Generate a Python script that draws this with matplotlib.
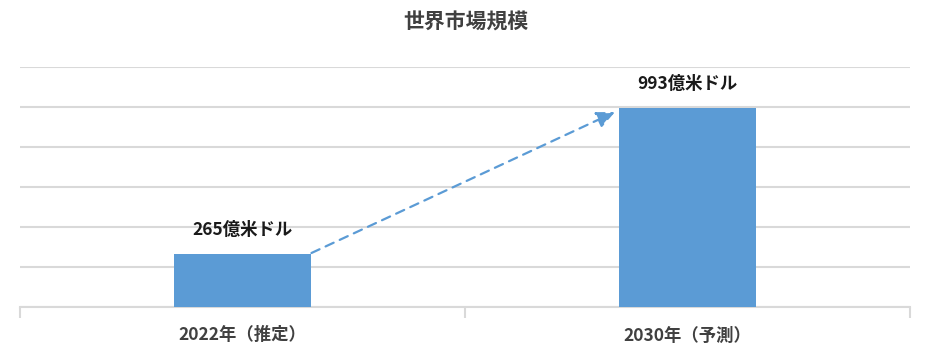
import matplotlib
matplotlib.use("Agg")
import matplotlib.pyplot as plt

plt.rcParams['font.family'] = ['Noto Sans CJK JP', 'DejaVu Sans']

categories = ["2022年（推定）", "2030年（予測）"]
values = [265, 993]
value_labels = ["265億米ドル", "993億米ドル"]
title = "世界市場規模"

bar_color = "#5B9BD5"
grid_color = "#D9D9D9"
text_gray = "#404040"

fig = plt.figure(figsize=(9.31, 3.61), dpi=100)
ax = fig.add_axes([20/931, 1-307/361, 890/931, 240/361])

x = list(range(len(categories)))
width = 0.31
ax.bar(x, values, width=width, color=bar_color, zorder=3)

ax.set_xlim(-0.5, len(categories) - 0.5)
ax.set_ylim(0, 1200)
ax.set_yticks(range(0, 1201, 200))
ax.yaxis.grid(True, color=grid_color, linewidth=1.5, zorder=0)
ax.tick_params(axis='y', left=False, labelleft=False)
for s in ['top', 'right', 'left']:
    ax.spines[s].set_visible(False)
ax.spines['bottom'].set_color(grid_color)
ax.spines['bottom'].set_linewidth(1.5)

ax.set_xticks([-0.5, 0.5, 1.5], minor=False)
ax.set_xticklabels([])
ax.tick_params(axis='x', which='major', length=8, color=grid_color, width=1.5)
ax.set_xticks(x, minor=True)
ax.set_xticklabels(categories, minor=True, fontsize=12.5, fontweight='bold', color=text_gray)
ax.tick_params(axis='x', which='minor', length=0, pad=14)

for xi, v, lab in zip(x, values, value_labels):
    ax.annotate(lab, (xi, v), xytext=(0, 11), textcoords='offset points',
                ha='center', va='bottom', fontsize=12.5, fontweight='bold', color='#1a1a1a')

# arrow from first bar top-right to second bar top-left
ax.annotate("", xy=(x[1] - width/2 - 0.008, values[1] - 18),
            xytext=(x[0] + width/2, values[0] + 5),
            arrowprops=dict(arrowstyle='-|>,head_length=1.1,head_width=0.5',
                            color=bar_color, linestyle=(0, (4, 3)), linewidth=1.6,
                            shrinkA=0, shrinkB=0), zorder=4)

fig.text(0.5, 1 - 22/361, title, ha='center', va='center', fontsize=15,
         fontweight='bold', color=text_gray)

fig.savefig("out.png", dpi=100)
